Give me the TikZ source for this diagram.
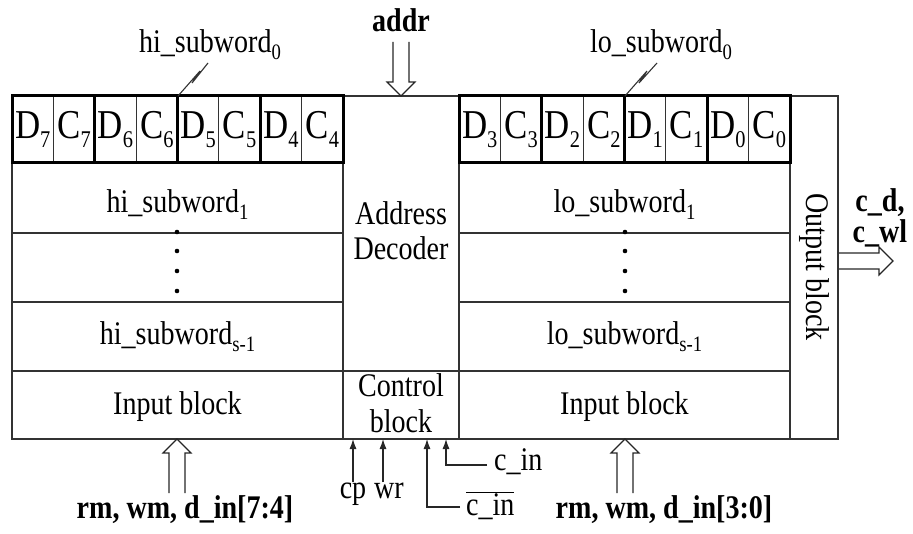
\documentclass[tikz,border=0pt]{standalone}
\usepackage{fontspec}
\setmainfont{Liberation Serif}[FakeStretch=0.85]
\usetikzlibrary{arrows.meta}
\newcommand\mycsub[1]{\raisebox{-9pt}{\fontsize{24}{24}\selectfont #1}}
\newcommand\mytsub[1]{\raisebox{-7pt}{\fontsize{22}{22}\selectfont #1}}
\begin{document}
\begin{tikzpicture}[x=1pt,y=-1pt,
  ln/.style={line width=1.1pt, draw=black!80},
  thk/.style={line width=3pt, draw=black},
  lbl/.style={inner sep=0pt, anchor=base, font=\fontsize{33}{36}\selectfont},
  blbl/.style={inner sep=0pt, anchor=base, font=\fontsize{33}{36}\selectfont\bfseries},
  cell/.style={inner sep=0pt, anchor=base, font=\fontsize{41}{44}\selectfont},
  hollow/.style={line width=1.1pt, draw=black!85, line join=miter},
  sig/.style={line width=1.1pt, draw=black!85, -{Latex[length=10pt,width=7pt]}},
  uparrow/.pic={\draw[hollow] (-8,54) -- (-8,14) -- (-14,14) -- (0,0) -- (14,14) -- (8,14) -- (8,54);}
]
\useasboundingbox (0,0) rectangle (913,534);

% frame and rows
\draw[ln] (12,96) rectangle (838,439);
\draw[ln] (343,96) -- (343,439);
\draw[ln] (459,96) -- (459,439);
\draw[ln] (790,96) -- (790,439);
\foreach \y in {233,302} {
  \draw[ln] (12,\y) -- (343,\y);
  \draw[ln] (459,\y) -- (790,\y);
}
\draw[ln] (12,371) -- (790,371);

% cells
\foreach \x in {12,94.75,177.5,260.25,459,541.75,624.5,707.25} {
  \draw[ln] ({\x+41.375},96) -- ({\x+41.375},163);
  \draw[thk] (\x,96) rectangle ({\x+82.75},163);
}
\foreach \i/\l/\n in {0/D/7,1/C/7,2/D/6,3/C/6,4/D/5,5/C/5,6/D/4,7/C/4}
  \node[cell] (hc\i) at ({12+41.375*(\i+0.5)},139) {\l\mycsub{\n}};
\foreach \i/\l/\n in {0/D/3,1/C/3,2/D/2,3/C/2,4/D/1,5/C/1,6/D/0,7/C/0}
  \node[cell] (lc\i) at ({459+41.375*(\i+0.5)},139) {\l\mycsub{\n}};

% row texts
\node[lbl] (hi0) at (210,53) {hi\_subword\mytsub{0}};
\node[lbl] (lo0) at (661,53) {lo\_subword\mytsub{0}};
\node[lbl] (hi1) at (177.5,213) {hi\_subword\mytsub{1}};
\node[lbl] (lo1) at (624.5,213) {lo\_subword\mytsub{1}};
\node[lbl] (his) at (177.5,345) {hi\_subword\mytsub{s-1}};
\node[lbl] (los) at (624.5,345) {lo\_subword\mytsub{s-1}};
\node[lbl] (inl) at (177.5,415) {Input block};
\node[lbl] (inr) at (624.5,415) {Input block};
\node[lbl] (ad1) at (401,225) {Address};
\node[lbl] (ad2) at (401,260) {Decoder};
\node[lbl] (cb1) at (401,397) {Control};
\node[lbl] (cb2) at (401,432) {block};
\node[lbl, rotate=-90, anchor=center] (ob) at (814,267) {Output block};

% dots
\foreach \y in {232,251,271,291} {
  \fill (177,\y) circle (2.3);
  \fill (625,\y) circle (2.3);
}

% bus break marks
\coordinate (hi0s) at (178,96);
\coordinate (lo0s) at (625,96);
\draw[ln] (hi0s) -- ++(22,-25) -- ++(-8,12) -- ++(16,-20);
\draw[ln] (lo0s) -- ++(22,-25) -- ++(-8,12) -- ++(18,-20);

% outer labels
\node[blbl] (addr) at (401,32) {addr};
\node[blbl] (inlbl) at (185,518) {rm, wm, d\_in[7:4]};
\node[blbl] (inrbl) at (664,518) {rm, wm, d\_in[3:0]};
\node[blbl] (cd) at (880,212) {c\_d,};
\node[blbl] (cwl) at (880,243) {c\_wl};

% hollow arrows
\coordinate (addrT) at (401,96);
\coordinate (inlT) at (177,439);
\coordinate (inrT) at (625,439);
\coordinate (outT) at (893,261);
\pic[rotate=180] at (addrT) {uparrow};
\pic at (inlT) {uparrow};
\pic at (inrT) {uparrow};
\pic[rotate=-90] at (outT) {uparrow};

% control signals
\node[lbl] (cp) at (353,498) {cp};
\node[lbl] (wr) at (389,498) {wr};
\node[lbl, anchor=base west] (cin) at (494,470) {c\_in};
\node[lbl, anchor=base west] (cinb) at (466,515) {$\overline{\mbox{c\_in}}$};
\coordinate (cpT) at (353,439);
\coordinate (wrT) at (383,439);
\coordinate (cinbT) at (427,439);
\coordinate (cinT) at (446,439);
\coordinate (cinE) at (487,465);
\coordinate (cinbE) at (460,507);
\draw[sig] (cp.north -| cpT) -- (cpT);
\draw[sig] (wr.north -| wrT) -- (wrT);
\draw[sig] (cinE) -- (cinE -| cinT) -- (cinT);
\draw[sig] (cinbE) -- (cinbE -| cinbT) -- (cinbT);
\end{tikzpicture}
\end{document}
